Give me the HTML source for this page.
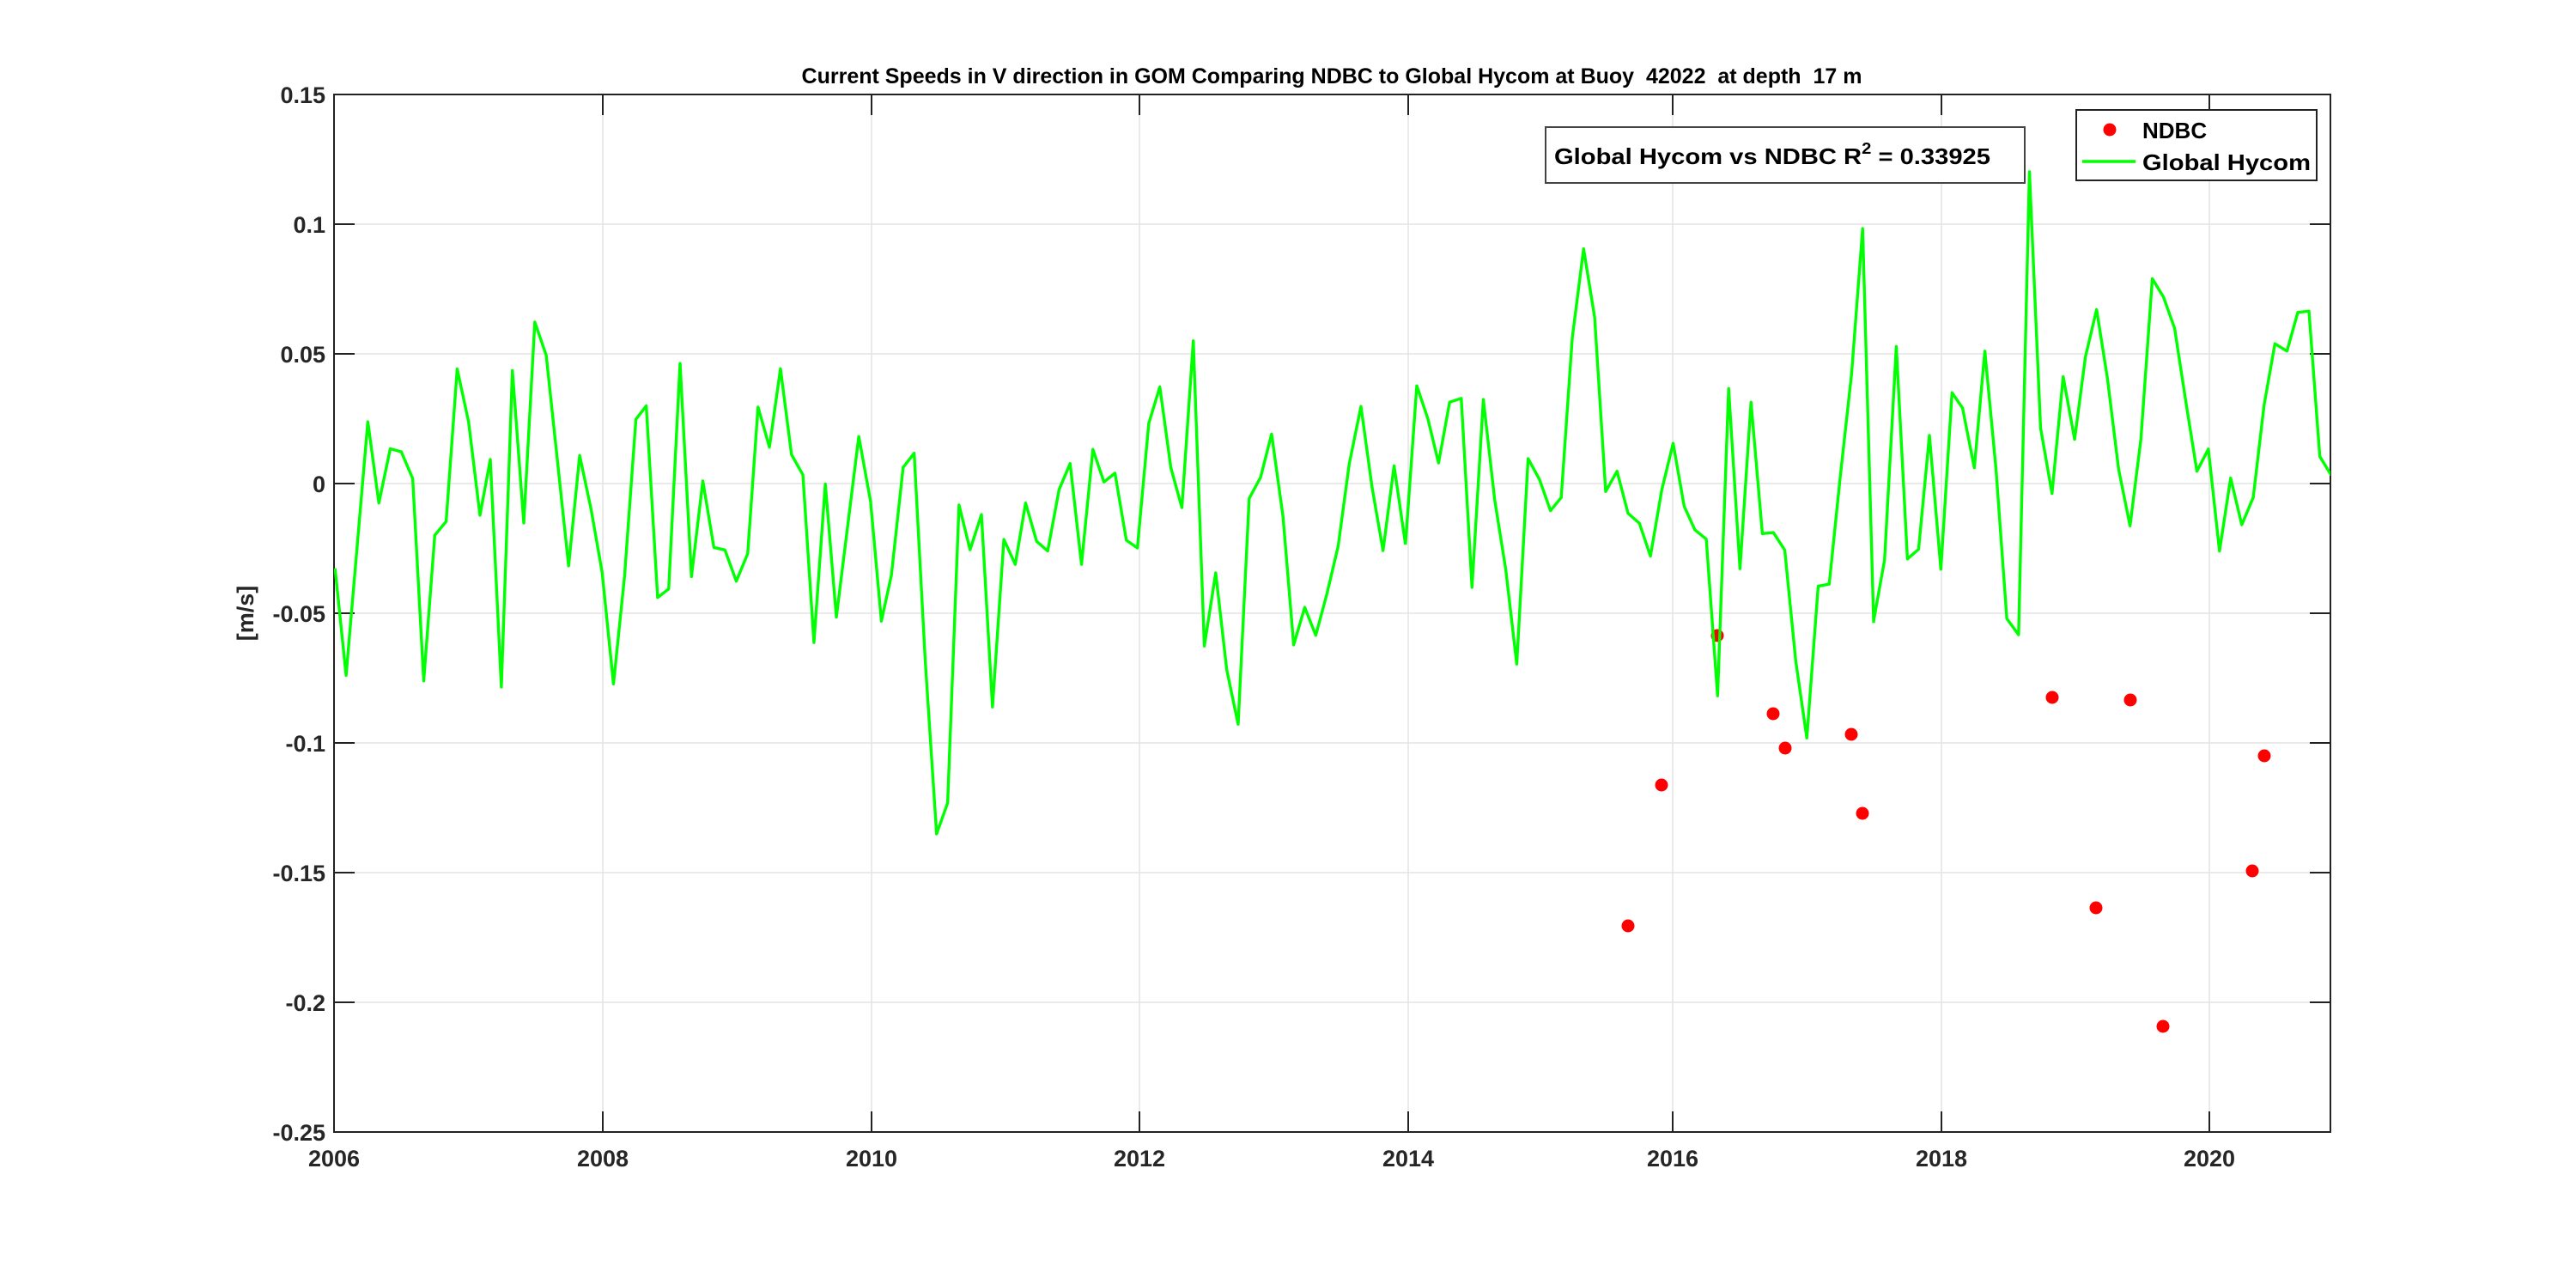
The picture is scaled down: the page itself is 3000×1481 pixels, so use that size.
<!DOCTYPE html>
<html><head><meta charset="utf-8"><style>html,body{margin:0;padding:0;background:#fff}svg{display:block}text{font-family:"Liberation Sans",Arial,sans-serif;font-weight:bold}</style></head>
<body>
<svg width="3000" height="1481" viewBox="0 0 3000 1481" xmlns="http://www.w3.org/2000/svg">
<rect width="3000" height="1481" fill="#fff"/>
<defs><clipPath id="c"><rect x="389" y="110" width="2325" height="1208"/></clipPath></defs>
<g stroke="#e3e3e3" stroke-width="1.5">
<line x1="702" y1="110" x2="702" y2="1318"/><line x1="1015" y1="110" x2="1015" y2="1318"/><line x1="1327" y1="110" x2="1327" y2="1318"/><line x1="1640" y1="110" x2="1640" y2="1318"/><line x1="1948" y1="110" x2="1948" y2="1318"/><line x1="2261" y1="110" x2="2261" y2="1318"/><line x1="2573" y1="110" x2="2573" y2="1318"/>
<line x1="389" y1="261" x2="2714" y2="261"/><line x1="389" y1="412" x2="2714" y2="412"/><line x1="389" y1="563" x2="2714" y2="563"/><line x1="389" y1="714" x2="2714" y2="714"/><line x1="389" y1="865" x2="2714" y2="865"/><line x1="389" y1="1016" x2="2714" y2="1016"/><line x1="389" y1="1167" x2="2714" y2="1167"/>
</g>
<g stroke="#222" stroke-width="2">
<rect x="389" y="110" width="2325" height="1208" fill="none"/>
<path d="M702 1318v-24M1015 1318v-24M1327 1318v-24M1640 1318v-24M1948 1318v-24M2261 1318v-24M2573 1318v-24M702 110v24M1015 110v24M1327 110v24M1640 110v24M1948 110v24M2261 110v24M2573 110v24"/>
<path d="M389 261h24M389 412h24M389 563h24M389 714h24M389 865h24M389 1016h24M389 1167h24M2714 261h-24M2714 412h-24M2714 563h-24M2714 714h-24M2714 865h-24M2714 1016h-24M2714 1167h-24"/>
</g>
<g fill="#f00">
<circle cx="1896" cy="1078" r="7.5"/><circle cx="1935" cy="914" r="7.5"/><circle cx="2000" cy="740" r="7.5"/><circle cx="2065" cy="831" r="7.5"/><circle cx="2079" cy="871" r="7.5"/><circle cx="2156" cy="855" r="7.5"/><circle cx="2169" cy="947" r="7.5"/><circle cx="2390" cy="812" r="7.5"/><circle cx="2481" cy="815" r="7.5"/><circle cx="2637" cy="880" r="7.5"/><circle cx="2441" cy="1057" r="7.5"/><circle cx="2623" cy="1014" r="7.5"/><circle cx="2519" cy="1195" r="7.5"/>
</g>
<g clip-path="url(#c)" fill="none" stroke="#00ff00" stroke-width="3.4" stroke-linejoin="round">
<g transform="translate(389,300) scale(0.4018,0.3571)"><polyline vector-effect="non-scaling-stroke" points="3,1013 35,1362 98,535 130,800 163,623 195,633 228,720 260,1380 292,905 325,860 357,363 390,535 423,840 453,658 485,1400 517,368 550,865 582,210 615,318 680,1005 712,645 745,820 777,1025 810,1390 842,1040 875,527 905,483 938,1108 970,1080 1003,345 1036,1040 1069,728 1101,945 1133,953 1166,1055 1199,965 1229,487 1262,618 1294,362 1326,642 1359,708 1391,1255 1424,738 1456,1172 1521,583 1556,800"/></g>
<g transform="translate(1010,300) scale(0.4018,0.4464)"><polyline vector-effect="non-scaling-stroke" points="10,640 41,948 70,828 104,547 136,510 168,1050 201,1503 233,1422 266,645 298,762 331,670 363,1172 396,735 429,800 459,640 491,740 523,765 556,605 588,537 621,800 654,500 686,585 718,562 751,737 783,757 816,432 848,337 880,548 912,652 945,217 977,1013 1010,822 1042,1075 1075,1217 1107,628 1140,573 1172,460 1205,675 1236,1010 1268,912 1300,985 1332,878 1365,752 1397,538 1431,388 1463,598 1495,764 1527,543 1560,748"/></g>
<g transform="translate(1630,180) scale(0.3571,0.6378)"><polyline vector-effect="non-scaling-stroke" points="19,712 56,422 92,482 127,563 163,452 201,445 236,790 273,447 310,630 346,757 382,930 419,555 456,593 492,650 527,626 563,335 600,172 636,297 672,615 709,578 745,655 782,673 818,733 855,612 892,527 928,642 963,685 1000,702 1037,988 1073,427 1110,756 1146,452 1183,692 1219,690 1256,722 1292,925 1328,1065 1365,788 1401,784 1437,588 1474,400 1510,135 1546,855"/></g>
<g transform="translate(2180,180) scale(0.3508,0.6631)"><polyline vector-effect="non-scaling-stroke" points="6,818 42,712 81,337 118,710 155,693 191,493 229,728 266,418 301,445 340,550 375,345 412,552 448,815 487,843 523,30 560,480 598,595 635,390 673,500 709,355 746,272 782,393 819,552 857,652 893,500 931,218 968,250 1005,305 1042,433 1079,556 1117,517 1154,696 1191,568 1228,650 1266,602 1302,440 1338,332 1378,345 1414,277 1451,275 1487,530 1525,563"/></g>
</g>
<g font-size="27" fill="#262626" text-anchor="end">
<text x="379" y="120">0.15</text><text x="379" y="271">0.1</text><text x="379" y="422">0.05</text><text x="379" y="573">0</text><text x="379" y="724">-0.05</text><text x="379" y="875">-0.1</text><text x="379" y="1026">-0.15</text><text x="379" y="1177">-0.2</text><text x="379" y="1328">-0.25</text>
</g>
<g font-size="27" fill="#262626" text-anchor="middle">
<text x="389" y="1358">2006</text><text x="702" y="1358">2008</text><text x="1015" y="1358">2010</text><text x="1327" y="1358">2012</text><text x="1640" y="1358">2014</text><text x="1948" y="1358">2016</text><text x="2261" y="1358">2018</text><text x="2573" y="1358">2020</text>
</g>
<text x="295" y="714" font-size="27" fill="#262626" text-anchor="middle" transform="rotate(-90 295 714)">[m/s]</text>
<text x="1551" y="97" font-size="25" fill="#000" text-anchor="middle" style="white-space:pre" xml:space="preserve">Current Speeds in V direction in GOM Comparing NDBC to Global Hycom at Buoy  42022  at depth  17 m</text>
<rect x="1800" y="148" width="558" height="65" fill="#fff" stroke="#444" stroke-width="2"/>
<text x="1810" y="191" font-size="26" fill="#000" textLength="508" lengthAdjust="spacingAndGlyphs">Global Hycom vs NDBC R<tspan dy="-12" font-size="18">2</tspan><tspan dy="12"> = 0.33925</tspan></text>
<rect x="2418" y="128" width="280" height="82" fill="#fff" stroke="#222" stroke-width="2"/>
<circle cx="2457" cy="151" r="7.5" fill="#f00"/>
<line x1="2425" y1="188" x2="2487" y2="188" stroke="#00ff00" stroke-width="3.4"/>
<text x="2495" y="161" font-size="26" fill="#000">NDBC</text>
<text x="2495" y="198" font-size="26" fill="#000" textLength="196" lengthAdjust="spacingAndGlyphs">Global Hycom</text>
</svg>
</body></html>
